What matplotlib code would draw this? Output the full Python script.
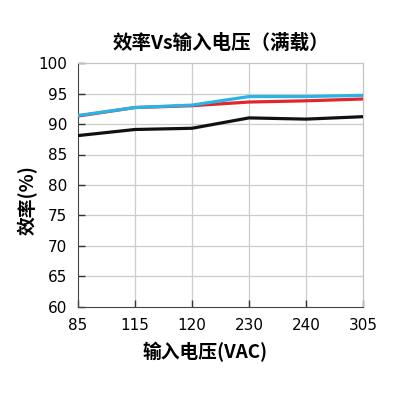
import matplotlib
matplotlib.use("Agg")
from matplotlib import pyplot as plt

plt.rcParams['font.family'] = ['Noto Sans CJK SC', 'DejaVu Sans']

voltages = ["85", "115", "120", "230", "240", "305"]
eff_black = [88.1, 89.1, 89.3, 91.0, 90.8, 91.2]
eff_red = [91.3, 92.7, 93.0, 93.6, 93.8, 94.1]
eff_cyan = [91.4, 92.7, 93.1, 94.5, 94.5, 94.7]
y_ticks = [60, 65, 70, 75, 80, 85, 90, 95, 100]


def make():
    fig = plt.figure(figsize=(4, 4), dpi=100)
    ax = fig.add_axes([0.195, 0.2325, 0.7125, 0.61])
    xs = list(range(len(voltages)))

    # grid
    for y in y_ticks[1:-1]:
        ax.axhline(y, color='#cccccc', linewidth=0.9, zorder=1)
    for x in xs[1:-1]:
        ax.axvline(x, color='#cccccc', linewidth=0.9, zorder=1)

    ax.plot(xs, eff_black, color='#111111', linewidth=2.3, zorder=3)
    ax.plot(xs, eff_red, color='#e3262b', linewidth=2.3, zorder=3)
    ax.plot(xs, eff_cyan, color='#2ab4e6', linewidth=2.3, zorder=4)

    ax.set_xlim(0, len(voltages) - 1)
    ax.set_ylim(60, 100)
    ax.set_xticks(xs)
    ax.set_xticklabels(voltages, fontsize=11, family='DejaVu Sans')
    ax.set_yticks(y_ticks)
    ax.set_yticklabels([str(v) for v in y_ticks], fontsize=11, family='DejaVu Sans')
    ax.tick_params(axis='both', direction='in', length=5, width=1, color='#333333')
    ax.tick_params(axis='y', pad=8)
    ax.tick_params(axis='x', pad=8)

    ax.spines['top'].set_color('#c4c4c4')
    ax.spines['right'].set_color('#c4c4c4')
    ax.spines['top'].set_linewidth(0.9)
    ax.spines['right'].set_linewidth(0.9)
    ax.spines['left'].set_color('#444444')
    ax.spines['bottom'].set_color('#444444')

    ax.set_title("效率Vs输入电压（满载）", fontsize=14, fontweight='bold', pad=10)
    ax.set_xlabel("输入电压(VAC)", fontsize=13.5, fontweight='bold',
                  ha='center', va='center', rotation_mode='anchor')
    ax.set_ylabel("效率(%)", fontsize=13.5, fontweight='bold',
                  ha='center', va='center', rotation_mode='anchor')
    ax.xaxis.set_label_coords(0.446, -0.184)
    ax.yaxis.set_label_coords(-0.175, 0.44)

    fig.savefig("out.png", dpi=100)
    plt.close(fig)


make()
